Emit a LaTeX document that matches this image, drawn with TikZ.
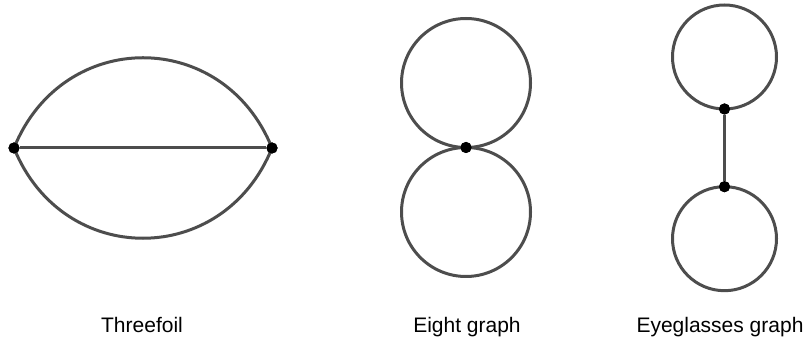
\documentclass[tikz,border=0pt]{standalone}
\usepackage{fontspec}
\setmainfont{Liberation Sans}
\usetikzlibrary{calc}
\definecolor{edgegray}{HTML}{4D4D4D}

\begin{document}
\begin{tikzpicture}[
    x=1pt, y=1pt,
    vtx/.style={circle, fill=black, inner sep=0pt, minimum size=11pt},
    edge/.style={draw=edgegray, line width=3pt},
    lbl/.style={font=\fontsize{21}{25}\selectfont, anchor=base},
]
\useasboundingbox (0,0) rectangle (806,345);

% Threefoil
\node[vtx] (t1) at (14,197) {};
\node[vtx] (t2) at (272,197) {};
\draw[edge] (t1.center) to[out=68, in=112, looseness=1.29] (t2.center);
\draw[edge] (t1.center) to[out=-68, in=-112, looseness=1.29] (t2.center);
\draw[edge] (t1) -- (t2);

% Eight graph
\node[vtx] (e1) at (466,197.5) {};
\draw[edge] (e1.center) arc[start angle=-90, end angle=270, radius=64.5];
\draw[edge] (e1.center) arc[start angle=90, end angle=450, radius=64.5];

% Eyeglasses graph
\node[vtx] (g1) at (724.5,236) {};
\node[vtx] (g2) at (724.5,158.3) {};
\draw[edge] (g1.center) arc[start angle=-90, end angle=270, radius=52];
\draw[edge] (g2.center) arc[start angle=90, end angle=450, radius=52];
\draw[edge] (g1) -- (g2);

% redraw the vertices on top
\foreach \v in {t1, t2, e1, g1, g2}
    \fill (\v) circle[radius=5.6pt];

% Labels
\node[lbl] (l1) at (142,12) {Threefoil};
\node[lbl] (l2) at (467,12) {Eight graph};
\node[lbl] (l3) at (720,12) {Eyeglasses graph};

\end{tikzpicture}
\end{document}
